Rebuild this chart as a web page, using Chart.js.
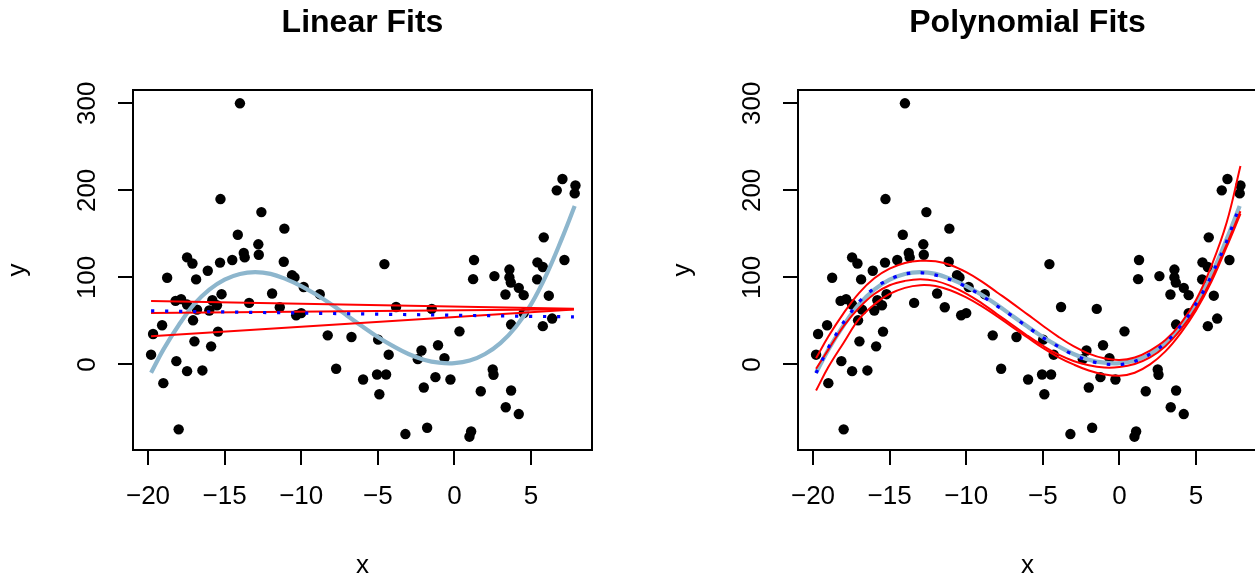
<!DOCTYPE html>
<html><head><meta charset="utf-8">
<script src="https://cdn.jsdelivr.net/npm/chart.js@4.4.1/dist/chart.umd.min.js"></script>
<style>
html,body{margin:0;padding:0;background:#fff;overflow:hidden;width:1255px;height:577px;}
.panel{position:absolute;top:0;width:665px;height:577px;}
#p1{left:0}#p2{left:665px}
</style></head><body>
<div class="panel" id="p1"><canvas id="c1" width="665" height="577"></canvas></div>
<div class="panel" id="p2"><canvas id="c2" width="665" height="577"></canvas></div>
<script>
// ---- data ----
const pointX = [-14,-15.27,-12.6,-11.1,-14.14,-12.8,-13.75,-13.69,-12.77,-14.5,-15.3,-17.45,-17.1,-16.1,-11.14,-18.75,-16.86,-10.6,-10.44,-9.84,-8.79,-15.2,-11.9,-18.2,-17.84,-17.45,-15.8,-15.5,-13.4,-16.8,-16,-11.4,-10.33,-10.0,-17.06,-19.08,-19.67,-15.43,-16.97,-15.88,-8.27,-6.72,-19.8,-18.15,-17.45,-16.45,-19.0,-7.72,-5.96,-18.0,-4.57,-3.81,-1.48,0.33,1.28,1.22,2.61,3.59,3.59,3.68,4.2,4.52,3.33,5.42,5.77,5.83,5.4,6.16,7.18,4.52,3.7,6.38,5.77,7.05,6.68,7.9,7.85,-4.98,-4.29,-1.07,-2.15,-2.39,-0.65,-1.24,-0.26,-5.05,-4.46,-4.9,-2.0,2.5,2.55,1.72,3.7,3.35,4.2,-3.2,-1.78,1.09,0.98];
const pointY = [300,190,175,156,149,138,128,123,126,120,117,123,116,107.6,118,99.6,97.7,102.6,100,89,80.7,80.7,81.5,73,75,68.8,73.8,68,70.7,63,62,65.7,56.5,59,50.7,45,35,37.7,26.5,20.8,33.4,31.5,11.2,3.8,-7.7,-6.9,-21.5,-5,-17.3,-74.6,115.3,66,63.8,38,120,98,101.5,109,100,94,88,79.6,80.4,117.3,112,146,97.7,79,120,59,45.8,52.7,44,213,200,205.6,196.5,28.5,11.2,22,16,6.1,7.3,-14.6,-17.3,-11.5,-11.5,-34.2,-26.5,-5.8,-11.9,-30.8,-30,-49.2,-57,-80,-72.7,-77,-83];

// true (light blue) curve
const trueX = [-19.8,-19,-18,-17,-16,-15,-14,-13,-12,-11,-10,-9,-8,-7,-6,-5,-4,-3,-2,-1,0,1,2,3,4,5,6,7,7.85];
const trueY = [-9.5,17,45,69,86,97.5,104,106,104,98,90,80,68.5,56,43.5,31.5,21,12,5.5,2,1.5,4.5,12,24.5,43,69,103,144,182];

// linear fits (left panel)
const linX = [-19.8, 7.8];
const linUpperY = [73, 64];
const linMidY = [59, 63.5];
const linLowerY = [32.5, 63];
const linDotY = [61.5, 54.6];

// polynomial fits (right panel)
const polyX = [-19.8,-19,-18,-17,-16,-15,-14,-13,-12,-11,-10,-9,-8,-7,-6,-5,-4,-3,-2,-1,0,1,2,3,4,5,6,7,7.9];
const polyUpperY = [7,32,59,82,99,110,116.5,119,118.5,114,106,95.5,83,70.5,57.5,44.5,32,21,12.5,7,5,8,16,28,47,74,113,163,228];
const polyMidY = [-5,17,44,65,81,91,96,98,96,90,81.5,70.5,58,45.5,33,21.5,11.5,4,-1,-3.5,-3,0.5,8,21,40,65,98,138,176];
const polyLowerY = [-30,-3,25,52,69,81,88,91,90,85,77,67,55.5,43,31,19,8.5,0,-7,-11.5,-13,-9.5,0,15,36,62,95,135,173];
const polyDotX = [-19.8,-19.41,-19.0,-18.54,-18.06,-17.52,-16.95,-16.25,-15.5,-14.69,-13.8,-12.9,-11.99,-11.14,-10.27,-9.46,-8.68,-7.9,-7.13,-6.4,-5.66,-4.88,-4.09,-3.28,-2.43,-1.57,-0.65,0.26,1.15,1.96,2.72,3.39,3.98,4.55,5.03,5.5,5.92,6.31,6.7,7.05,7.36,7.68,7.8];
const polyDotY = [-10,4.6,19.2,33.1,46.9,60,72.7,84.2,93.4,100.3,104.6,105.3,102.6,98,91.5,83.9,75.3,66.1,57.3,48.1,38.9,29.6,21.6,13.5,6.9,2.3,0,0.3,4.6,11.5,20.6,31.5,44.2,56.9,70.7,84.5,98.8,113.8,128.8,143.8,158.4,174.2,180];

const xTicks = [-20,-15,-10,-5,0,5];
const xTickLabels = ['\u221220','\u221215','\u221210','\u22125','0','5'];
const yTicks = [0,100,200,300];
const yTickLabels = ['0','100','200','300'];
const panelTitles = ['Linear Fits','Polynomial Fits'];
const xTitle = 'x', yTitle = 'y';

// ---- helpers ----
const FONT = '"Liberation Sans", Arial, Helvetica, sans-serif';
const pts = (xs, ys) => xs.map((v, i) => ({x: v, y: ys[i]}));

const rAxes = {
  id: 'rAxes',
  afterDraw(chart, args, opts) {
    const {ctx, chartArea: a, scales: {x, y}} = chart;
    ctx.save();
    ctx.strokeStyle = '#000';
    ctx.lineWidth = 2;
    ctx.strokeRect(a.left, a.top, a.right - a.left, a.bottom - a.top);
    const tl = 15;
    ctx.beginPath();
    xTicks.forEach(t => { const px = Math.round(x.getPixelForValue(t)); ctx.moveTo(px, a.bottom); ctx.lineTo(px, a.bottom + tl); });
    yTicks.forEach(t => { const py = Math.round(y.getPixelForValue(t)); ctx.moveTo(a.left, py); ctx.lineTo(a.left - tl, py); });
    ctx.stroke();
    ctx.fillStyle = '#000';
    ctx.font = '26px ' + FONT;
    ctx.textAlign = 'center';
    ctx.textBaseline = 'middle';
    xTicks.forEach((t, i) => ctx.fillText(xTickLabels[i], x.getPixelForValue(t), a.bottom + 47));
    yTicks.forEach((t, i) => {
      ctx.save();
      ctx.translate(a.left - 45, y.getPixelForValue(t));
      ctx.rotate(-Math.PI / 2);
      ctx.fillText(yTickLabels[i], 0, 0);
      ctx.restore();
    });
    ctx.fillText(xTitle, (a.left + a.right) / 2, 566);
    ctx.save();
    ctx.translate(18, (a.top + a.bottom) / 2);
    ctx.rotate(-Math.PI / 2);
    ctx.fillText(yTitle, 0, 0);
    ctx.restore();
    ctx.font = 'bold 32px ' + FONT;
    ctx.fillText(opts.text, (a.left + a.right) / 2, 23);
    ctx.restore();
  }
};

const lineDs = (data, color, width, order, extra) => Object.assign({
  data, showLine: true, borderColor: color, backgroundColor: color, borderWidth: width,
  pointRadius: 0, tension: 0.4, fill: false, order
}, extra || {});

function makeChart(id, title, lines) {
  return new Chart(document.getElementById(id), {
    type: 'scatter',
    data: {
      datasets: [
        { data: pts(pointX, pointY), pointRadius: 5.2, pointBackgroundColor: '#000', pointBorderWidth: 0, order: 10 },
        lineDs(pts(trueX, trueY), '#8DB6CD', 4.2, 8)
      ].concat(lines)
    },
    options: {
      responsive: false, animation: false, devicePixelRatio: 1,
      layout: { padding: { left: 133, right: 73, top: 90, bottom: 127 } },
      scales: {
        x: { type: 'linear', display: false, min: -20.98, max: 8.98 },
        y: { type: 'linear', display: false, min: -98.3, max: 315.3 }
      },
      plugins: { legend: { display: false }, tooltip: { enabled: false }, rAxes: { text: title } },
      events: []
    },
    plugins: [rAxes]
  });
}

makeChart('c1', panelTitles[0], [
  lineDs(pts(linX, linUpperY), '#FF0000', 2, 5, {tension: 0}),
  lineDs(pts(linX, linMidY), '#FF0000', 2, 5, {tension: 0}),
  lineDs(pts(linX, linLowerY), '#FF0000', 2, 5, {tension: 0}),
  lineDs(pts(linX, linDotY), '#0000FF', 3.2, 1, {tension: 0, borderDash: [3.2, 10.8]})
]);
makeChart('c2', panelTitles[1], [
  lineDs(pts(polyX, polyUpperY), '#FF0000', 2, 5),
  lineDs(pts(polyX, polyMidY), '#FF0000', 2, 5),
  lineDs(pts(polyX, polyLowerY), '#FF0000', 2, 5),
  lineDs(pts(polyDotX, polyDotY), '#0000FF', 3.2, 1, {borderDash: [3.2, 10.8]})
]);
</script>
</body></html>
